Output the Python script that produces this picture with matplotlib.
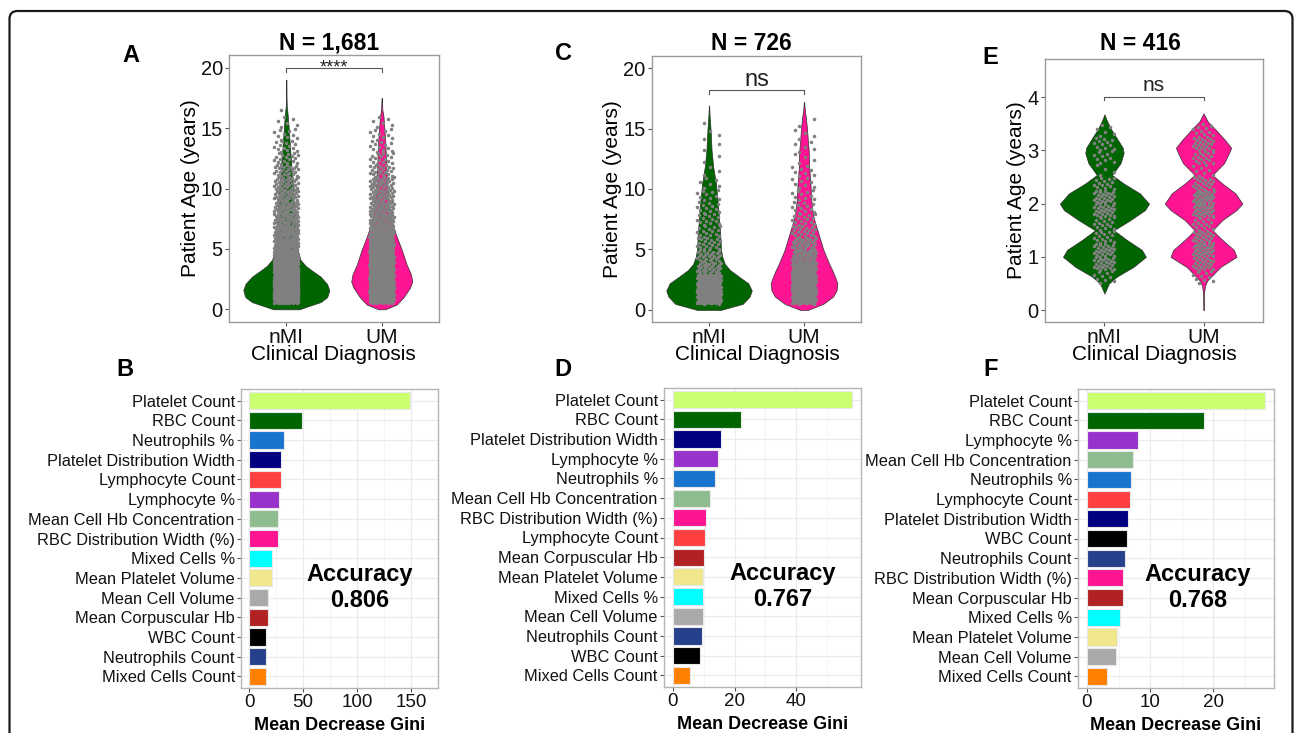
import numpy as np
import matplotlib
matplotlib.use('Agg')
import matplotlib.pyplot as plt
from matplotlib.patches import FancyBboxPatch
from matplotlib.transforms import IdentityTransform

plt.rcParams['font.family'] = ['Liberation Sans', 'DejaVu Sans']

#DATA - violins (age in years, relative density)

groups = ['nMI', 'UM']

a_nmi_age = [0, 0.3, 0.6, 1.0, 1.3, 1.6, 2.1, 2.7, 3.2, 3.6, 4.1, 4.9, 5.5, 6.4, 7.8, 9.2, 10.5, 11.9, 13.3, 14.3, 15.3, 16.2, 16.8, 17.5, 19.0]
a_nmi_den = [0.3, 0.55, 0.8, 0.95, 0.98, 1.0, 0.95, 0.8, 0.6, 0.45, 0.33, 0.26, 0.24, 0.22, 0.2, 0.18, 0.15, 0.12, 0.09, 0.07, 0.05, 0.03, 0.012, 0.006, 0.004]
a_um_age = [0, 0.4, 1.0, 1.8, 2.3, 2.9, 3.7, 4.9, 6.0, 7.1, 8.5, 10.5, 12.4, 14.0, 15.0, 16.0, 16.5, 17.5]
a_um_den = [0.08, 0.35, 0.51, 0.66, 0.71, 0.68, 0.58, 0.47, 0.35, 0.24, 0.16, 0.12, 0.1, 0.08, 0.06, 0.04, 0.015, 0.003]

c_nmi_age = [0, 0.5, 1.1, 1.6, 2.2, 2.7, 3.3, 3.8, 4.4, 5.0, 6.4, 7.8, 9.1, 10.5, 11.8, 13.2, 14.0, 15.0, 16.0, 16.9]
c_nmi_den = [0.28, 0.79, 0.95, 1.0, 0.92, 0.72, 0.49, 0.37, 0.31, 0.28, 0.26, 0.23, 0.2, 0.16, 0.1, 0.06, 0.05, 0.035, 0.015, 0.003]
c_um_age = [0, 0.5, 1.1, 1.6, 2.2, 2.7, 3.3, 3.8, 4.4, 5.0, 6.4, 7.8, 9.1, 10.5, 11.8, 13.2, 14.0, 15.0, 16.0, 16.5, 17.2]
c_um_den = [0.09, 0.45, 0.68, 0.76, 0.78, 0.73, 0.66, 0.59, 0.52, 0.45, 0.33, 0.21, 0.17, 0.15, 0.12, 0.11, 0.09, 0.07, 0.04, 0.02, 0.003]

e_nmi_age = [0.31, 0.5, 0.63, 0.81, 1.0, 1.13, 1.32, 1.5, 1.69, 1.88, 2.0, 2.19, 2.38, 2.54, 2.76, 2.95, 3.05, 3.2, 3.4, 3.55, 3.68]
e_nmi_den = [0.0, 0.1, 0.28, 0.65, 0.93, 0.84, 0.5, 0.21, 0.58, 0.91, 1.0, 0.8, 0.43, 0.17, 0.36, 0.43, 0.41, 0.3, 0.15, 0.06, 0.0]
e_um_age = [0.0, 0.3, 0.45, 0.55, 0.63, 0.81, 1.0, 1.13, 1.32, 1.5, 1.69, 1.88, 2.0, 2.19, 2.38, 2.54, 2.76, 2.95, 3.05, 3.2, 3.4, 3.55, 3.7]
e_um_den = [0.005, 0.01, 0.03, 0.08, 0.17, 0.38, 0.74, 0.68, 0.42, 0.2, 0.42, 0.74, 0.87, 0.72, 0.42, 0.2, 0.46, 0.57, 0.62, 0.48, 0.26, 0.09, 0.0]

#DATA - jittered points, counts per age bin

ac_edges = [0.5, 1, 2, 3, 4, 5, 6, 7, 8, 9, 10, 11, 12, 13, 14, 15, 16, 17]
a_nmi_cnt = [60, 185, 140, 110, 80, 60, 50, 45, 40, 35, 30, 25, 18, 14, 10, 6, 1]
a_um_cnt = [40, 126, 100, 90, 80, 65, 55, 45, 40, 35, 30, 22, 16, 12, 10, 6, 0]
c_nmi_cnt = [40, 90, 60, 30, 25, 20, 15, 14, 12, 10, 6, 3, 2, 2, 3, 1, 0]
c_um_cnt = [35, 75, 70, 55, 40, 30, 20, 15, 12, 10, 8, 8, 4, 5, 4, 2, 0]

e_edges = [0.5, 0.75, 1.0, 1.25, 1.5, 1.75, 2.0, 2.25, 2.5, 2.75, 3.0, 3.25, 3.5]
e_nmi_cnt = [10, 25, 25, 15, 15, 25, 25, 15, 4, 10, 12, 6]
e_um_cnt = [10, 22, 27, 22, 15, 27, 30, 20, 8, 16, 21, 11]

titles = ['N = 1,681', 'N = 726', 'N = 416']

#DATA - random forest importance (top to bottom)

b_feat = ['Platelet Count', 'RBC Count', 'Neutrophils %', 'Platelet Distribution Width',
          'Lymphocyte Count', 'Lymphocyte %', 'Mean Cell Hb Concentration',
          'RBC Distribution Width (%)', 'Mixed Cells %', 'Mean Platelet Volume',
          'Mean Cell Volume', 'Mean Corpuscular Hb', 'WBC Count', 'Neutrophils Count',
          'Mixed Cells Count']
b_vals = [149.2, 48.6, 32.2, 29.7, 29.5, 27.8, 27.0, 26.4, 21.1, 21.0, 18.0, 17.9, 16.1, 16.0, 15.3]

d_feat = ['Platelet Count', 'RBC Count', 'Platelet Distribution Width', 'Lymphocyte %',
          'Neutrophils %', 'Mean Cell Hb Concentration', 'RBC Distribution Width (%)',
          'Lymphocyte Count', 'Mean Corpuscular Hb', 'Mean Platelet Volume',
          'Mixed Cells %', 'Mean Cell Volume', 'Neutrophils Count', 'WBC Count',
          'Mixed Cells Count']
d_vals = [58.1, 22.2, 15.7, 14.6, 13.5, 11.9, 10.8, 10.3, 10.1, 9.7, 9.6, 9.6, 9.3, 8.9, 5.6]

f_feat = ['Platelet Count', 'RBC Count', 'Lymphocyte %', 'Mean Cell Hb Concentration',
          'Neutrophils %', 'Lymphocyte Count', 'Platelet Distribution Width', 'WBC Count',
          'Neutrophils Count', 'RBC Distribution Width (%)', 'Mean Corpuscular Hb',
          'Mixed Cells %', 'Mean Platelet Volume', 'Mean Cell Volume', 'Mixed Cells Count']
f_vals = [28.2, 18.5, 8.1, 7.25, 7.0, 6.8, 6.5, 6.3, 6.0, 5.7, 5.65, 5.2, 4.8, 4.6, 3.2]

accuracy = ['0.806', '0.767', '0.768']

#STYLE

GREEN = '#006400'
PINK = '#FF1493'
feat_colors = {
    'Platelet Count': '#CAFF70',
    'RBC Count': '#006400',
    'Neutrophils %': '#1874CD',
    'Platelet Distribution Width': '#000080',
    'Lymphocyte Count': '#FF4040',
    'Lymphocyte %': '#9932CC',
    'Mean Cell Hb Concentration': '#8FBC8F',
    'RBC Distribution Width (%)': '#FF1493',
    'Mixed Cells %': '#00FFFF',
    'Mean Platelet Volume': '#F0E68C',
    'Mean Cell Volume': '#A9A9A9',
    'Mean Corpuscular Hb': '#B22222',
    'WBC Count': '#000000',
    'Neutrophils Count': '#27408B',
    'Mixed Cells Count': '#FF7F00',
}

W, H = 1295, 733


def box(l, t, r, b):
    return [l / W, 1 - b / H, (r - l) / W, (b - t) / H]


def spread(edges, counts, pos, jit):
    xs, ys = [], []
    for lo, hi, n in zip(edges[:-1], edges[1:], counts):
        k = np.arange(n)
        ys.append(lo + (hi - lo) * (k + 0.5) / max(n, 1))
        xs.append(pos + jit * (2 * ((k * 0.618034 + 0.3) % 1) - 1))
    return np.concatenate(xs), np.concatenate(ys)


def violin_panel(ax, ages, dens, edges, counts, ylim, yticks, bracket, jit):
    for i, (ag, de, cn, col) in enumerate(zip(ages, dens, counts, [GREEN, PINK])):
        pos = i + 1
        w = np.asarray(de) * 0.45
        ax.fill_betweenx(ag, pos - w, pos + w, facecolor=col,
                         edgecolor='#303030', lw=0.5, zorder=2)
        px, py = spread(edges, cn, pos, jit)
        ax.scatter(px, py, s=6.5, color='#808080', lw=0, zorder=3)
    y, drop, lab, fs, ty = bracket
    ax.plot([1, 1, 2, 2], [y - drop, y, y, y - drop], color='#555555', lw=0.8, zorder=4)
    ax.text(1.5, ty, lab, ha='center', va='baseline', fontsize=fs, color='#222222')
    ax.set_xlim(0.4, 2.6)
    ax.set_ylim(*ylim)
    ax.set_xticks([1, 2])
    ax.set_xticklabels(groups)
    ax.set_yticks(yticks)
    ax.tick_params(axis='y', labelsize=14.5, length=3, color='#555555', pad=1.5, labelcolor='#111111')
    ax.tick_params(axis='x', labelsize=15, length=3, color='#555555', pad=1.5, labelcolor='#111111')
    for s in ax.spines.values():
        s.set_color('#9a9a9a')
        s.set_linewidth(1.0)


def bar_panel(ax, feats, vals, ticks, acc, accx):
    y = np.arange(len(feats))
    ax.barh(y, vals, height=0.88, color=[feat_colors[f] for f in feats],
            edgecolor='#e8e8e8', lw=0.8, zorder=3)
    vmax = max(vals)
    ax.set_xlim(-0.05 * vmax, 1.05 * vmax)
    ax.set_ylim(len(feats) - 0.4, -0.6)
    ax.set_yticks(y)
    ax.set_yticklabels(feats)
    ax.set_xticks(ticks)
    step = ticks[1] - ticks[0]
    ax.set_xticks([t + step / 2 for t in ticks], minor=True)
    ax.grid(True, which='major', color='#EBEBEB', lw=0.9, zorder=0)
    ax.grid(True, which='minor', axis='x', color='#F2F2F2', lw=0.6, zorder=0)
    ax.set_axisbelow(True)
    ax.tick_params(axis='y', labelsize=11.8, length=3, color='#555555', pad=1.5, labelcolor='#111111')
    ax.tick_params(axis='x', labelsize=13.5, length=3, color='#555555', pad=1.5, labelcolor='#111111')
    ax.tick_params(axis='x', which='minor', length=0)
    for s in ax.spines.values():
        s.set_color('#b5b5b5')
        s.set_linewidth(1.0)
    ax.set_xlabel('Mean Decrease Gini', fontsize=13, fontweight='bold', labelpad=4)
    ax.text(accx, 0.337, 'Accuracy\n' + acc, transform=ax.transAxes, ha='center', va='center',
            fontsize=17, fontweight='bold', linespacing=1.15)


fig = plt.figure(figsize=(W / 100, H / 100), dpi=100)

axA = fig.add_axes(box(229, 55, 439, 322))
axC = fig.add_axes(box(652, 56, 861, 322))
axE = fig.add_axes(box(1045, 59, 1263, 322))
axB = fig.add_axes(box(241, 389, 438, 688))
axD = fig.add_axes(box(664, 388, 861, 687))
axF = fig.add_axes(box(1078, 389, 1274, 688))

violin_panel(axA, [a_nmi_age, a_um_age], [a_nmi_den, a_um_den], ac_edges,
             [a_nmi_cnt, a_um_cnt], (-1.05, 21.05), [0, 5, 10, 15, 20],
             (20.0, 0.33, '****', 13, 19.6), 0.13)
violin_panel(axC, [c_nmi_age, c_um_age], [c_nmi_den, c_um_den], ac_edges,
             [c_nmi_cnt, c_um_cnt], (-1.0, 21.0), [0, 5, 10, 15, 20],
             (18.2, 0.33, 'ns', 17, 18.55), 0.13)
violin_panel(axE, [e_nmi_age, e_um_age], [e_nmi_den, e_um_den], e_edges,
             [e_nmi_cnt, e_um_cnt], (-0.225, 4.72), [0, 1, 2, 3, 4],
             (4.0, 0.06, 'ns', 15, 4.12), 0.11)

bar_panel(axB, b_feat, b_vals, [0, 50, 100, 150], accuracy[0], 0.60)
bar_panel(axD, d_feat, d_vals, [0, 20, 40], accuracy[1], 0.604)
bar_panel(axF, f_feat, f_vals, [0, 10, 20], accuracy[2], 0.613)

# titles, axis labels and panel letters
for ax, t, tx, lx in zip([axA, axC, axE], titles, [329, 751, 1140], [190, 612, 1017]):
    fig.text(tx / W, 1 - 43 / H, t, ha='center', va='center', fontsize=16.5, fontweight='bold')
    pos = ax.get_position()
    fig.text(lx / W, pos.y0 + pos.height / 2, 'Patient Age (years)', rotation=90,
             ha='center', va='center', fontsize=15)
for cx in [333, 757, 1154]:
    fig.text(cx / W, 1 - 355 / H, 'Clinical Diagnosis', ha='center', va='center', fontsize=15)

for lab, x, y in [('A', 131, 56), ('C', 564, 54), ('E', 990, 57),
                  ('B', 125, 370), ('D', 563, 369), ('F', 991, 369)]:
    fig.text(x / W, 1 - y / H, lab, ha='center', va='center', fontsize=17, fontweight='bold')

# outer rounded frame
frame = FancyBboxPatch((9.5, -40), 1283, 762, boxstyle='round,pad=0,rounding_size=8',
                       transform=IdentityTransform(), fill=False, edgecolor='#1a1a1a', lw=1.6)
fig.patches.append(frame)

fig.savefig('out.png', dpi=100)
